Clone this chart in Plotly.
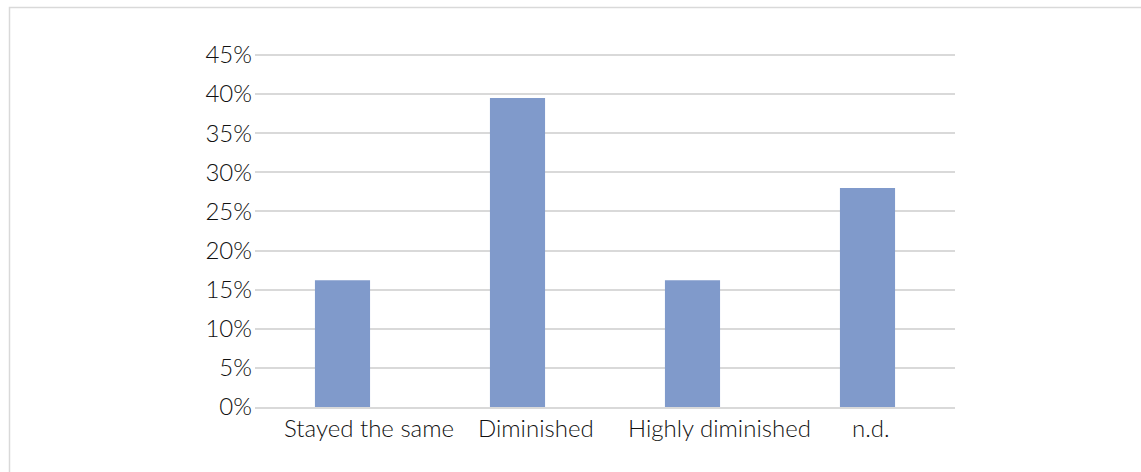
import plotly.graph_objects as go

categories = ["Stayed the same", "Diminished", "Highly diminished", "n.d."]
values = [16.2, 39.5, 16.2, 28.0]
y_ticks = [0, 5, 10, 15, 20, 25, 30, 35, 40, 45]
y_tick_labels = [f"{v}%" for v in y_ticks]
label_xshift = [26, 18, 27, 3]  # horizontal offset of category labels (px)

W, H = 1141, 472
L, R, T, B = 255, 186, 51, 65
pw, ph = W - L - R, H - T - B
TXT = "#111111"
FONT = "Lato, sans-serif"

fig = go.Figure(go.Bar(
    x=categories, y=values,
    marker=dict(color="#809ACB", line=dict(width=0)),
    width=0.315,
))

annotations = [
    dict(x=c, y=0, xref="x", yref="paper", text=c, showarrow=False,
         xanchor="center", yanchor="top", xshift=dx, yshift=-4,
         font=dict(family=FONT, size=24, color=TXT, weight=300))
    for c, dx in zip(categories, label_xshift)
]

fig.update_layout(
    width=W, height=H,
    margin=dict(l=L, r=R, t=T, b=B, pad=0),
    paper_bgcolor="white", plot_bgcolor="white",
    font=dict(family=FONT, size=24, color=TXT, weight=300),
    showlegend=False,
    xaxis=dict(showgrid=False, showline=True, linecolor="#D9D9D9", linewidth=1.5,
               ticks="", showticklabels=False),
    yaxis=dict(range=[0, 45.5], tickvals=y_ticks, ticktext=y_tick_labels,
               showgrid=True, gridcolor="#D9D9D9", gridwidth=1.5, zeroline=False,
               showline=False, ticks="", ticklabelstandoff=2,
               tickfont=dict(family=FONT, size=24, color=TXT, weight=300)),
    annotations=annotations,
    shapes=[dict(type="rect", xref="paper", yref="paper",
                 x0=(9.5 - L) / pw, x1=(W + 20 - L) / pw,
                 y0=-(B + 20) / ph, y1=(H - B - 7.5) / ph,
                 line=dict(color="#D9D9D9", width=1.5), layer="below")],
)

fig.write_html("out.html", config={"displayModeBar": False},
               post_script="document.body.style.margin='0';document.body.style.overflow='hidden';")
